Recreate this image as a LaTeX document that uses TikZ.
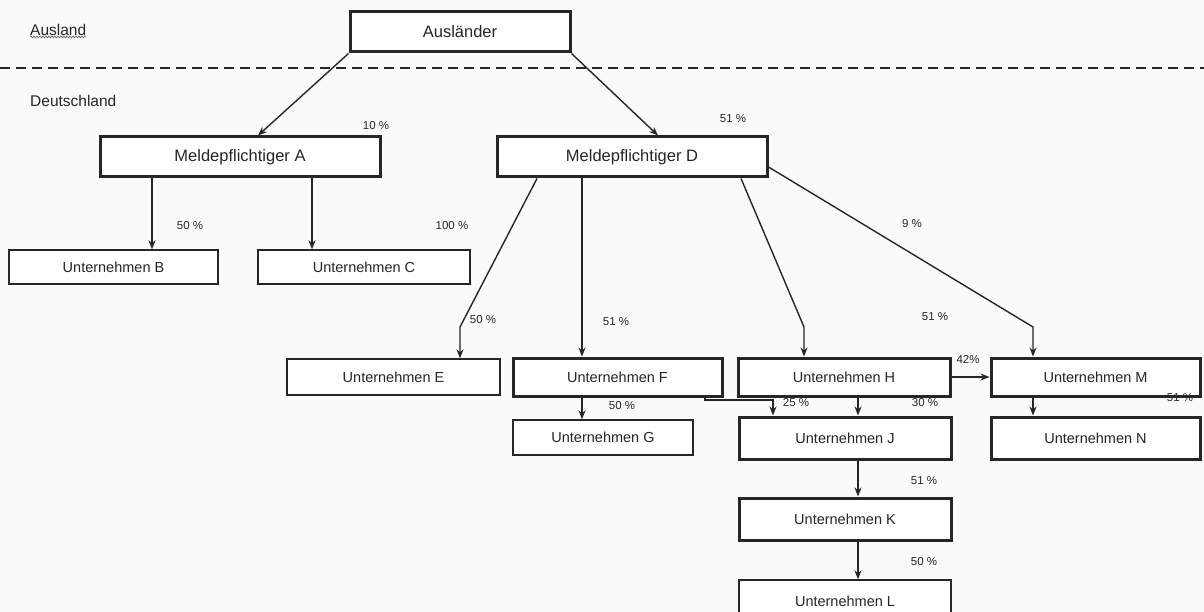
\documentclass[tikz,border=0pt]{standalone}
\usepackage{fontspec}
\setmainfont{Liberation Sans}
\usetikzlibrary{arrows.meta,decorations.pathmorphing}
\definecolor{ink}{HTML}{262626}
\definecolor{paper}{HTML}{FAFAFA}
\begin{document}
\begin{tikzpicture}[x=1pt,y=-1pt,
  thickbox/.style={draw=ink,line width=3pt,fill=white,inner sep=0pt,font=\fontsize{14.5}{16}\selectfont,text=ink},
  thinbox/.style={draw=ink,line width=1.4pt,fill=white,inner sep=0pt,font=\fontsize{14.5}{16}\selectfont,text=ink},
  pct/.style={font=\fontsize{11.5}{13}\selectfont,text=ink,inner sep=0pt},
  region/.style={font=\fontsize{15.5}{17}\selectfont,text=ink,anchor=west,inner sep=0pt},
  arr/.style={draw=ink,line width=1.4pt,-{Stealth[length=9pt,width=7pt]}}
]
\clip (0,0) rectangle (1204,612);
\fill[paper] (0,0) rectangle (1204,612);

% region labels and border
\node[region] (ausland) at (30,30) {Ausland};
\draw[ink!70,line width=0.7pt,decorate,decoration={snake,amplitude=0.9pt,segment length=3pt}] (ausland.south west) ++(0,1) -- ++(56,0);
\node[region] (de) at (30,101) {Deutschland};
\coordinate (bl) at (0,68);
\coordinate (br) at (1204,68);
\draw[ink,line width=2pt,dash pattern=on 10pt off 6pt] (bl) -- (br);

% boxes
\node[thickbox,minimum width=220,minimum height=40,font=\fontsize{16.5}{18}\selectfont] (aus) at (460,32) {Ausländer};
\node[thickbox,minimum width=280,minimum height=40,font=\fontsize{16.5}{18}\selectfont] (A) at (240,157) {Meldepflichtiger A};
\node[thickbox,minimum width=270,minimum height=40,font=\fontsize{16.5}{18}\selectfont] (D) at (632,157) {Meldepflichtiger D};
\node[thinbox,minimum width=209,minimum height=34] (B) at (113.5,267) {Unternehmen B};
\node[thinbox,minimum width=212,minimum height=34] (C) at (364,267) {Unternehmen C};
\node[thinbox,minimum width=213,minimum height=36] (E) at (393.5,377) {Unternehmen E};
\node[thickbox,minimum width=209,minimum height=38] (F) at (617.5,377) {Unternehmen F};
\node[thickbox,minimum width=212,minimum height=38] (H) at (844,377) {Unternehmen H};
\node[thickbox,minimum width=209,minimum height=38] (M) at (1095.5,377) {Unternehmen M};
\node[thinbox,minimum width=180,minimum height=35] (G) at (603,437.5) {Unternehmen G};
\node[thickbox,minimum width=212,minimum height=42] (J) at (845,438) {Unternehmen J};
\node[thickbox,minimum width=209,minimum height=42] (N) at (1095.5,438) {Unternehmen N};
\node[thickbox,minimum width=212,minimum height=42] (K) at (845,519) {Unternehmen K};
\node[thinbox,minimum width=212,minimum height=42] (L) at (845,601) {Unternehmen L};

% connectors
\draw[arr] (aus.south west) -- (258,0 |- A.north);
\draw[arr] (aus.south east) -- (658,0 |- D.north);
\draw[arr] (152,0 |- A.south) -- (152,0 |- B.north);
\draw[arr] (312,0 |- A.south) -- (312,0 |- C.north);
\draw[arr] (537,0 |- D.south) -- (460,327) -- (460,0 |- E.north);
\draw[arr] (582,0 |- D.south) -- (582,0 |- F.north);
\draw[arr] (741,0 |- D.south) -- (804,327) -- (804,0 |- H.north);
\draw[arr] (D.east) ++(0,10) coordinate (dm) (dm) -- (1033,327) -- (1033,0 |- M.north);
\draw[arr] (H.east) -- (M.west);
\draw[arr] (582,0 |- F.south) -- (582,0 |- G.north);
\draw[arr] (705,0 |- F.south) -- (705,400) -- (773,400) -- (773,0 |- J.north);
\draw[arr] (858,0 |- H.south) -- (858,0 |- J.north);
\draw[arr] (1033,0 |- M.south) -- (1033,0 |- N.north);
\draw[arr] (858,0 |- J.south) -- (858,0 |- K.north);
\draw[arr] (858,0 |- K.south) -- (858,0 |- L.north);

% percentages
\node[pct] (p1) at (376,126) {10 \%};
\node[pct] (p2) at (733,119) {51 \%};
\node[pct] (p3) at (190,226) {50 \%};
\node[pct] (p4) at (452,226) {100 \%};
\node[pct] (p5) at (912,224) {9 \%};
\node[pct] (p6) at (483,320) {50 \%};
\node[pct] (p7) at (616,322) {51 \%};
\node[pct] (p8) at (935,317) {51 \%};
\node[pct] (p9) at (968,360) {42\%};
\node[pct] (p10) at (622,406) {50 \%};
\node[pct] (p11) at (796,403) {25 \%};
\node[pct] (p12) at (925,403) {30 \%};
\node[pct] (p13) at (1180,398) {51 \%};
\node[pct] (p14) at (924,481) {51 \%};
\node[pct] (p15) at (924,562) {50 \%};
\end{tikzpicture}
\end{document}
